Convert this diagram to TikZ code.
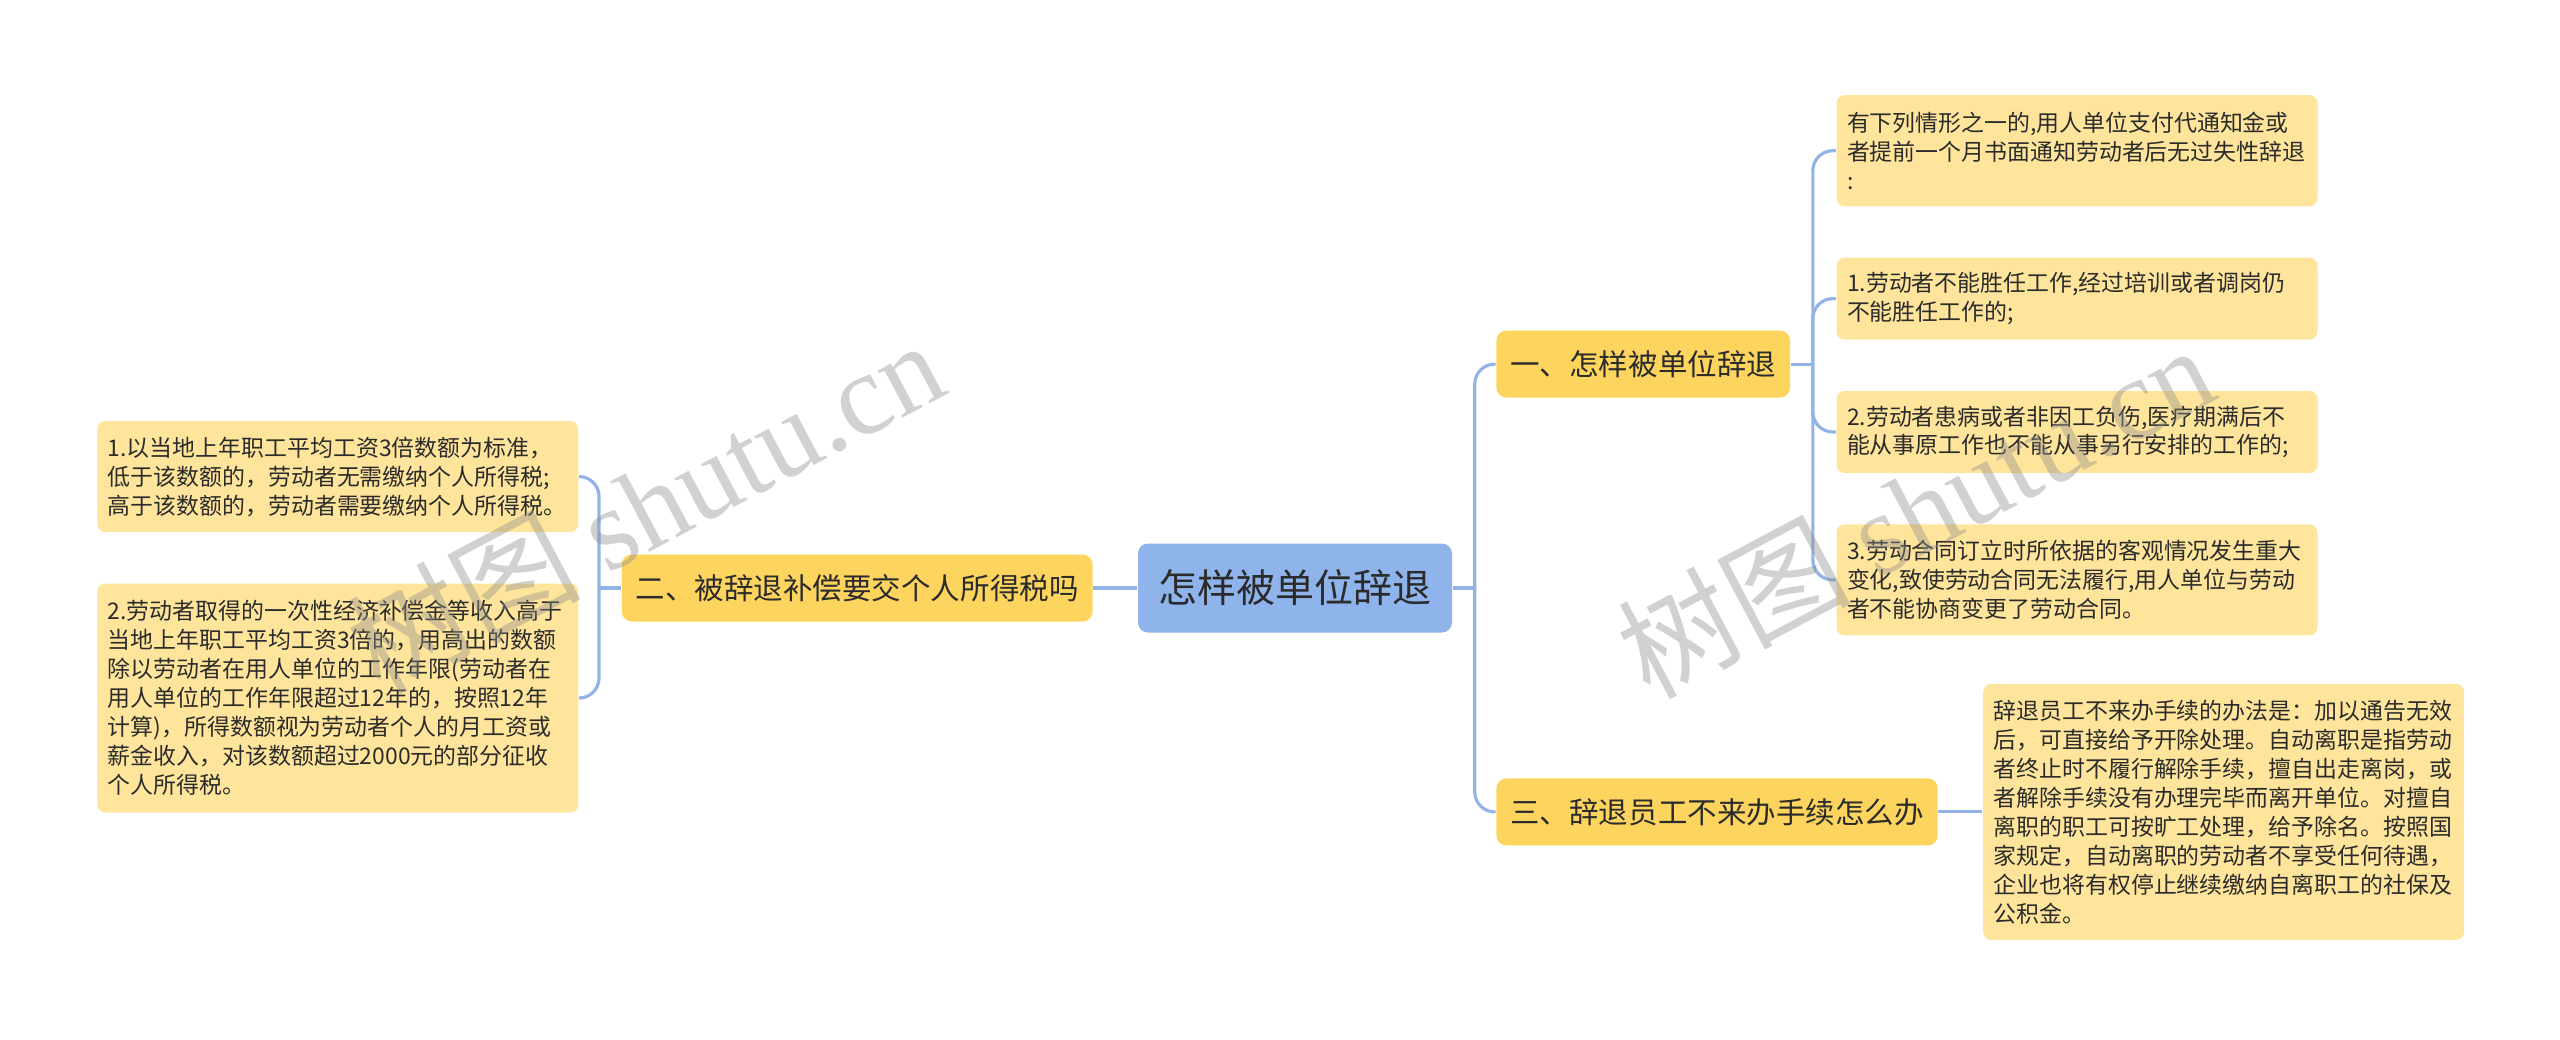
\documentclass[tikz,border=0pt]{standalone}
\usepackage{fontspec}
\setmainfont{Noto Sans CJK SC}
\newfontfamily\wmfont{Liberation Serif}
\usepackage{xcolor}
\usepackage{tikz}
\usetikzlibrary{positioning}
\definecolor{rootblue}{HTML}{8FB4EC}
\definecolor{branchyellow}{HTML}{FDD55E}
\definecolor{leafyellow}{HTML}{FFE59C}
\definecolor{linkblue}{HTML}{92B3E6}
\definecolor{inkgray}{HTML}{2B2B2B}

\begin{document}
\begin{tikzpicture}[
    rootbox/.style={fill=rootblue, rounded corners=0.1cm, minimum width=3.14cm,
                    minimum height=0.89cm, inner ysep=0.05cm,
                    font=\fontsize{11.1pt}{13pt}\selectfont, text=inkgray},
    branchbox/.style={fill=branchyellow, rounded corners=0.1cm, inner xsep=0.14cm,
                      inner ysep=0.05cm, minimum height=0.67cm,
                      font=\fontsize{8.4pt}{10pt}\selectfont, text=inkgray},
    leafbox/.style={fill=leafyellow, rounded corners=0.08cm, text width=4.6cm,
                    inner xsep=0.105cm, inner ysep=0.04cm, align=left,
                    font=\fontsize{6.52pt}{8.25pt}\selectfont, text=inkgray},
    link/.style={draw=linkblue, line width=0.9pt, rounded corners=0.2cm},
    watermark/.style={text=black!45, opacity=0.4, inner sep=0pt,
                      font=\fontsize{33pt}{33pt}\selectfont},
  ]

  \useasboundingbox (0,0) rectangle (25.6,-10.39);

  \node[rootbox] (root) at (12.95,-5.88) {怎样被单位辞退};

  \node[branchbox, left=0.44cm of root] (b2) {二、被辞退补偿要交个人所得税吗};
  \node[branchbox, above right=1.445cm and 0.43cm of root] (b1) {一、怎样被单位辞退};
  \node[branchbox, below right=1.445cm and 0.43cm of root] (b3) {三、辞退员工不来办手续怎么办};

  \node[leafbox, minimum height=1.11cm, above right=1.23cm and 0.45cm of b1] (r0)
    {有下列情形之一的,用人单位支付代通知金或\\者提前一个月书面通知劳动者后无过失性辞退\\:};
  \node[leafbox, minimum height=0.82cm, below=0.5cm of r0] (r1)
    {1.劳动者不能胜任工作,经过培训或者调岗仍\\不能胜任工作的;};
  \node[leafbox, minimum height=0.82cm, below=0.5cm of r1] (r2)
    {2.劳动者患病或者非因工负伤,医疗期满后不\\能从事原工作也不能从事另行安排的工作的;};
  \node[leafbox, minimum height=1.11cm, below=0.5cm of r2] (r3)
    {3.劳动合同订立时所依据的客观情况发生重大\\变化,致使劳动合同无法履行,用人单位与劳动\\者不能协商变更了劳动合同。};

  \node[leafbox, minimum height=2.56cm, right=0.44cm of b3] (r4)
    {辞退员工不来办手续的办法是：加以通告无效\\后，可直接给予开除处理。自动离职是指劳动\\者终止时不履行解除手续，擅自出走离岗，或\\者解除手续没有办理完毕而离开单位。对擅自\\离职的职工可按旷工处理，给予除名。按照国\\家规定，自动离职的劳动者不享受任何待遇，\\企业也将有权停止继续缴纳自离职工的社保及\\公积金。};

  \node[leafbox, minimum height=1.11cm, above left=0.21cm and 0.42cm of b2] (l1)
    {1.以当地上年职工平均工资3倍数额为标准，\\低于该数额的，劳动者无需缴纳个人所得税;\\高于该数额的，劳动者需要缴纳个人所得税。};
  \node[leafbox, minimum height=2.29cm, below=0.5cm of l1] (l2)
    {2.劳动者取得的一次性经济补偿金等收入高于\\当地上年职工平均工资3倍的，用高出的数额\\除以劳动者在用人单位的工作年限(劳动者在\\用人单位的工作年限超过12年的，按照12年\\计算)，所得数额视为劳动者个人的月工资或\\薪金收入，对该数额超过2000元的部分征收\\个人所得税。};

  \coordinate[right=0.22cm of root] (rootj);
  \coordinate[left=0.22cm of b2] (b2j);
  \coordinate[right=0.22cm of b1] (b1j);

  \draw[link] (root) -- (rootj);
  \draw[link] (rootj) |- (b1);
  \draw[link] (rootj) |- (b3);
  \draw[link] (root) -- (b2);
  \draw[link] (b2) -- (b2j);
  \draw[link] (b2j) |- (l1);
  \draw[link] (b2j) |- (l2);
  \draw[link] (b1) -- (b1j);
  \draw[link] (b1j) |- (r0);
  \draw[link] (b1j) |- (r1);
  \draw[link] (b1j) |- (r2);
  \draw[link] (b1j) |- (r3);
  \draw[link] (b3) -- (r4);

  \node[watermark, rotate=28] (wm1) at (6.45,-5.05) {树图 {\wmfont shutu.cn}};
  \node[watermark, rotate=28] (wm2) at (19.15,-5.10) {树图 {\wmfont shutu.cn}};

\end{tikzpicture}
\end{document}
